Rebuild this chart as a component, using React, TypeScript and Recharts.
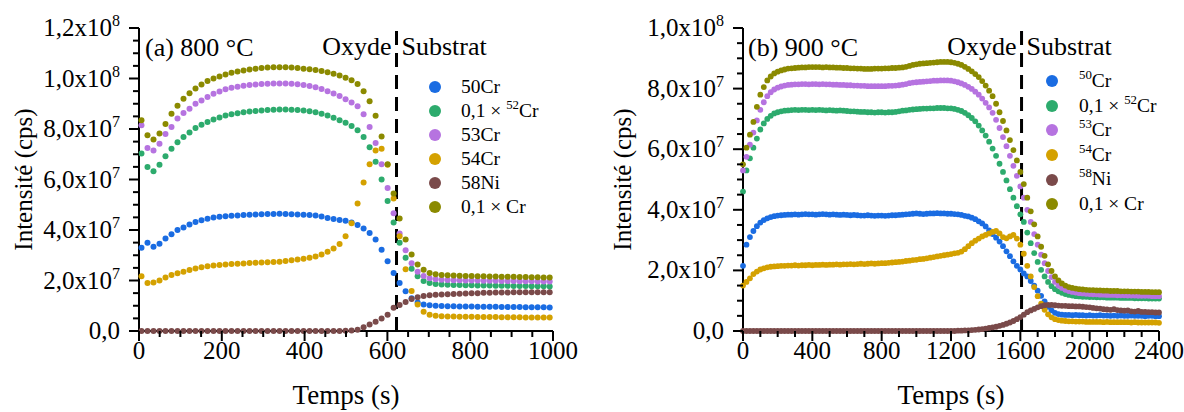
import React from "react";
import {
  Legend,
  ReferenceLine,
  Scatter,
  ScatterChart,
  XAxis,
  YAxis,
} from "recharts";

const FONT = '"Liberation Serif", "Times New Roman", serif';

// intensities are in units of 1e7 cps

// (a) 800 °C
const timeA = [
  6, 20.5, 35, 49.5, 64, 78.5, 93, 107.5, 122, 136.5,
  151, 165.5, 180, 194.5, 209, 223.5, 238, 252.5, 267, 281.5,
  296, 310.5, 325, 339.5, 354, 368.5, 383, 397.5, 412, 426.5,
  441, 455.5, 470, 484.5, 499, 513.5, 528, 542.5, 557, 571.5,
  586, 600.5, 615, 629.5, 644, 658.5, 673, 687.5, 702, 716.5,
  731, 745.5, 760, 774.5, 789, 803.5, 818, 832.5, 847, 861.5,
  876, 890.5, 905, 919.5, 934, 948.5, 963, 977.5, 992,
];
const a50Cr = [
  3.3, 3.5, 3.34, 3.46, 3.66, 3.83, 4.0, 4.1, 4.22, 4.32,
  4.39, 4.45, 4.5, 4.52, 4.54, 4.56, 4.57, 4.59, 4.6, 4.61,
  4.62, 4.63, 4.63, 4.64, 4.63, 4.62, 4.61, 4.6, 4.59, 4.57,
  4.53, 4.48, 4.44, 4.4, 4.37, 4.3, 4.2, 4.06, 3.88, 3.62,
  3.22, 2.76, 2.3, 1.9, 1.57, 1.3, 1.13, 1.05, 1.02, 1.0,
  0.99, 0.98, 0.98, 0.97, 0.97, 0.97, 0.96, 0.96, 0.96, 0.96,
  0.95, 0.95, 0.95, 0.95, 0.94, 0.94, 0.94, 0.94, 0.93,
];
const a52Cr = [
  7.03, 6.5, 6.33, 6.58, 6.92, 7.22, 7.48, 7.68, 7.86, 8.04,
  8.17, 8.28, 8.38, 8.46, 8.53, 8.58, 8.62, 8.66, 8.69, 8.71,
  8.73, 8.75, 8.76, 8.77, 8.77, 8.76, 8.75, 8.73, 8.7, 8.66,
  8.6, 8.53, 8.45, 8.35, 8.25, 8.12, 7.95, 7.68, 7.28, 6.7,
  6.0, 5.15, 4.3, 3.5, 2.9, 2.47, 2.17, 1.98, 1.9, 1.86,
  1.84, 1.83, 1.82, 1.82, 1.81, 1.81, 1.8, 1.8, 1.8, 1.79,
  1.79, 1.79, 1.78, 1.78, 1.78, 1.77, 1.77, 1.77, 1.76,
];
const a53Cr = [
  8.15, 7.25, 7.15, 7.42, 7.8, 8.08, 8.42, 8.63, 8.8, 9.0,
  9.13, 9.27, 9.4, 9.49, 9.57, 9.63, 9.67, 9.71, 9.74, 9.76,
  9.78, 9.79, 9.8, 9.8, 9.8, 9.79, 9.77, 9.74, 9.7, 9.65,
  9.58, 9.5, 9.41, 9.31, 9.18, 9.05, 8.9, 8.58, 8.08, 7.45,
  6.6, 5.66, 4.66, 3.86, 3.2, 2.68, 2.35, 2.18, 2.09, 2.05,
  2.03, 2.02, 2.01, 2.01, 2.0, 2.0, 2.0, 1.99, 1.99, 1.99,
  1.98, 1.98, 1.98, 1.97, 1.97, 1.97, 1.96, 1.96, 1.96,
];
const a54Cr = [
  2.17, 1.9, 1.92, 2.0, 2.12, 2.22, 2.29, 2.35, 2.42, 2.48,
  2.52, 2.56, 2.59, 2.61, 2.63, 2.65, 2.66, 2.67, 2.69, 2.7,
  2.71, 2.72, 2.73, 2.74, 2.77, 2.8, 2.83, 2.86, 2.9, 2.95,
  3.03, 3.14, 3.27, 3.45, 3.75, 4.27, 5.05, 5.88, 6.6, 7.15,
  7.22, 6.58, 5.25, 3.75, 2.45, 1.58, 1.05, 0.76, 0.64, 0.6,
  0.58, 0.57, 0.57, 0.56, 0.56, 0.56, 0.55, 0.55, 0.55, 0.55,
  0.54, 0.54, 0.54, 0.54, 0.53, 0.53, 0.53, 0.53, 0.53,
];
const a58Ni = [
  0, 0, 0, 0, 0, 0, 0, 0, 0, 0,
  0, 0, 0, 0, 0, 0, 0, 0, 0, 0,
  0, 0, 0, 0, 0, 0, 0, 0, 0, 0,
  0, 0, 0, 0, 0.01, 0.02, 0.05, 0.15, 0.26, 0.37,
  0.5, 0.64, 0.92, 1.03, 1.15, 1.27, 1.34, 1.39, 1.42, 1.44,
  1.45, 1.46, 1.47, 1.48, 1.49, 1.5, 1.5, 1.51, 1.51, 1.52,
  1.52, 1.52, 1.53, 1.53, 1.53, 1.53, 1.53, 1.53, 1.53,
];
const aCr = [
  8.35, 7.75, 7.58, 7.82, 8.2, 8.6, 8.92, 9.2, 9.42, 9.6,
  9.76, 9.9, 10.0, 10.08, 10.16, 10.23, 10.28, 10.32, 10.36, 10.39,
  10.42, 10.44, 10.45, 10.45, 10.45, 10.44, 10.42, 10.39, 10.37, 10.34,
  10.3, 10.25, 10.19, 10.12, 10.03, 9.93, 9.78, 9.5, 9.1, 8.52,
  7.7, 6.6, 5.45, 4.46, 3.62, 3.03, 2.63, 2.43, 2.3, 2.25,
  2.22, 2.21, 2.2, 2.19, 2.18, 2.18, 2.17, 2.17, 2.16, 2.16,
  2.15, 2.15, 2.15, 2.14, 2.14, 2.13, 2.13, 2.12, 2.12,
];

// (b) 900 °C
const timeB = [
  0, 20, 40, 60, 80, 100, 120, 140, 160, 180,
  200, 220, 240, 260, 280, 300, 320, 340, 360, 380,
  400, 420, 440, 460, 480, 500, 520, 540, 560, 580,
  600, 620, 640, 660, 680, 700, 720, 740, 760, 780,
  800, 820, 840, 860, 880, 900, 920, 940, 960, 980,
  1000, 1020, 1040, 1060, 1080, 1100, 1120, 1140, 1160, 1180,
  1200, 1220, 1240, 1260, 1280, 1300, 1320, 1340, 1360, 1380,
  1400, 1420, 1440, 1460, 1480, 1500, 1520, 1540, 1560, 1580,
  1600, 1620, 1640, 1660, 1680, 1700, 1720, 1740, 1760, 1780,
  1800, 1820, 1840, 1860, 1880, 1900, 1920, 1940, 1960, 1980,
  2000, 2020, 2040, 2060, 2080, 2100, 2120, 2140, 2160, 2180,
  2200, 2220, 2240, 2260, 2280, 2300, 2320, 2340, 2360, 2380,
  2400,
];
const b50Cr = [
  2.15, 2.85, 3.1, 3.3, 3.46, 3.58, 3.66, 3.72, 3.76, 3.79,
  3.81, 3.82, 3.83, 3.84, 3.84, 3.85, 3.84, 3.85, 3.86, 3.85,
  3.85, 3.84, 3.85, 3.86, 3.85, 3.84, 3.85, 3.84, 3.83, 3.84,
  3.83, 3.82, 3.83, 3.82, 3.81, 3.81, 3.82, 3.81, 3.8, 3.81,
  3.81, 3.8, 3.81, 3.82, 3.82, 3.83, 3.84, 3.85, 3.86, 3.87,
  3.88, 3.87, 3.86, 3.87, 3.88, 3.88, 3.89, 3.88, 3.88, 3.87,
  3.87, 3.86, 3.85, 3.83, 3.8, 3.78, 3.74, 3.69, 3.62, 3.55,
  3.45, 3.32, 3.2, 3.08, 2.95, 2.8, 2.63, 2.47, 2.3, 2.15,
  2.03, 1.9, 1.8, 1.65, 1.5, 1.33, 1.16, 0.98, 0.8, 0.68,
  0.6, 0.56, 0.54, 0.53, 0.53, 0.52, 0.53, 0.52, 0.52, 0.51,
  0.52, 0.51, 0.51, 0.52, 0.51, 0.51, 0.5, 0.51, 0.5, 0.51,
  0.5, 0.5, 0.51, 0.5, 0.5, 0.5, 0.49, 0.5, 0.5, 0.49,
  0.49,
];
const b52Cr = [
  4.6, 5.3, 5.7, 6.05, 6.35, 6.65, 6.85, 7.0, 7.1, 7.18,
  7.22, 7.25, 7.27, 7.28, 7.29, 7.3, 7.29, 7.3, 7.3, 7.29,
  7.3, 7.29, 7.3, 7.29, 7.28, 7.29, 7.28, 7.27, 7.28, 7.27,
  7.26, 7.25, 7.25, 7.24, 7.23, 7.23, 7.22, 7.22, 7.21, 7.22,
  7.22, 7.21, 7.22, 7.22, 7.23, 7.25, 7.27, 7.28, 7.3, 7.31,
  7.32, 7.33, 7.34, 7.34, 7.35, 7.35, 7.36, 7.36, 7.36, 7.35,
  7.35, 7.33, 7.3, 7.26, 7.2, 7.12, 7.03, 6.92, 6.78, 6.62,
  6.45, 6.25, 6.02, 5.78, 5.52, 5.25, 4.97, 4.68, 4.4, 4.12,
  3.85, 3.6, 3.25, 2.9, 2.57, 2.28, 2.02, 1.8, 1.62, 1.48,
  1.38, 1.31, 1.26, 1.22, 1.19, 1.17, 1.15, 1.14, 1.13, 1.13,
  1.12, 1.12, 1.11, 1.11, 1.11, 1.1, 1.1, 1.1, 1.1, 1.09,
  1.09, 1.09, 1.09, 1.08, 1.08, 1.08, 1.08, 1.07, 1.07, 1.07,
  1.07,
];
const b53Cr = [
  5.3, 5.75, 6.15, 6.55, 6.95, 7.3, 7.55, 7.75, 7.88, 7.97,
  8.03, 8.07, 8.1, 8.12, 8.13, 8.14, 8.14, 8.15, 8.15, 8.14,
  8.15, 8.15, 8.14, 8.15, 8.14, 8.14, 8.13, 8.13, 8.12, 8.12,
  8.11, 8.11, 8.1, 8.1, 8.09, 8.09, 8.08, 8.08, 8.08, 8.08,
  8.08, 8.08, 8.09, 8.09, 8.1, 8.11, 8.13, 8.15, 8.18, 8.2,
  8.21, 8.22, 8.23, 8.24, 8.25, 8.26, 8.26, 8.27, 8.27, 8.27,
  8.26, 8.24, 8.21, 8.17, 8.12, 8.06, 7.99, 7.9, 7.8, 7.67,
  7.53, 7.38, 7.2, 6.97, 6.7, 6.4, 6.1, 5.78, 5.45, 5.12,
  4.77, 4.4, 4.0, 3.6, 3.2, 2.85, 2.52, 2.24, 1.98, 1.78,
  1.62, 1.5, 1.42, 1.36, 1.32, 1.29, 1.27, 1.25, 1.24, 1.23,
  1.22, 1.21, 1.21, 1.2, 1.2, 1.19, 1.19, 1.19, 1.18, 1.18,
  1.18, 1.17, 1.17, 1.17, 1.16, 1.16, 1.16, 1.16, 1.15, 1.15,
  1.15,
];
const b54Cr = [
  1.5, 1.62, 1.74, 1.88, 1.96, 2.03, 2.07, 2.1, 2.12, 2.13,
  2.14, 2.15, 2.15, 2.16, 2.16, 2.17, 2.16, 2.17, 2.17, 2.18,
  2.17, 2.18, 2.18, 2.19, 2.18, 2.19, 2.19, 2.2, 2.19, 2.2,
  2.2, 2.21, 2.2, 2.21, 2.22, 2.21, 2.22, 2.23, 2.22, 2.23,
  2.24, 2.24, 2.25, 2.26, 2.27, 2.28, 2.29, 2.31, 2.32, 2.34,
  2.35, 2.37, 2.38, 2.4, 2.42, 2.44, 2.46, 2.48, 2.5, 2.52,
  2.54, 2.56, 2.58, 2.62, 2.7, 2.8, 2.9, 2.98, 3.05, 3.12,
  3.17, 3.22, 3.27, 3.3, 3.22, 3.1, 3.06, 3.12, 3.17, 3.05,
  2.85, 2.55, 2.15, 1.8, 1.45, 1.15, 0.9, 0.7, 0.55, 0.45,
  0.39, 0.36, 0.34, 0.33, 0.32, 0.32, 0.31, 0.31, 0.31, 0.3,
  0.3, 0.3, 0.3, 0.3, 0.29, 0.3, 0.29, 0.29, 0.29, 0.29,
  0.29, 0.29, 0.28, 0.29, 0.28, 0.28, 0.28, 0.28, 0.28, 0.28,
  0.27,
];
const b58Ni = [
  0, 0, 0, 0, 0, 0, 0, 0, 0, 0,
  0, 0, 0, 0, 0, 0, 0, 0, 0, 0,
  0, 0, 0, 0, 0, 0, 0, 0, 0, 0,
  0, 0, 0, 0, 0, 0, 0, 0, 0, 0,
  0, 0, 0, 0, 0, 0, 0, 0, 0, 0,
  0, 0, 0, 0, 0, 0, 0, 0, 0, 0,
  0, 0, 0.01, 0.01, 0.02, 0.02, 0.03, 0.04, 0.05, 0.06,
  0.08, 0.1, 0.12, 0.14, 0.17, 0.2, 0.24, 0.28, 0.33, 0.39,
  0.46, 0.54, 0.62, 0.68, 0.73, 0.78, 0.82, 0.85, 0.86, 0.86,
  0.85, 0.84, 0.83, 0.83, 0.82, 0.82, 0.81, 0.81, 0.8, 0.79,
  0.78, 0.76, 0.75, 0.74, 0.72, 0.71, 0.7, 0.72, 0.69, 0.68,
  0.67, 0.68, 0.65, 0.64, 0.66, 0.63, 0.63, 0.62, 0.62, 0.61,
  0.61,
];
const bCr = [
  5.5, 6.05, 6.48, 6.9, 7.4, 7.8, 8.05, 8.27, 8.4, 8.5,
  8.56, 8.6, 8.63, 8.66, 8.67, 8.68, 8.69, 8.7, 8.7, 8.71,
  8.71, 8.71, 8.71, 8.7, 8.71, 8.7, 8.7, 8.69, 8.69, 8.68,
  8.68, 8.67, 8.67, 8.66, 8.66, 8.65, 8.65, 8.65, 8.66, 8.66,
  8.66, 8.67, 8.67, 8.68, 8.68, 8.69, 8.7, 8.72, 8.75, 8.78,
  8.8, 8.82, 8.83, 8.84, 8.85, 8.86, 8.87, 8.88, 8.88, 8.88,
  8.87, 8.85, 8.82, 8.78, 8.72, 8.65, 8.57, 8.48, 8.38, 8.25,
  8.1, 7.93, 7.75, 7.5, 7.22, 6.93, 6.62, 6.3, 5.97, 5.63,
  5.25, 4.85, 4.4, 3.95, 3.52, 3.12, 2.78, 2.48, 2.2, 1.98,
  1.8, 1.67, 1.57, 1.5, 1.45, 1.42, 1.4, 1.38, 1.37, 1.36,
  1.35, 1.35, 1.34, 1.34, 1.33, 1.33, 1.32, 1.32, 1.32, 1.31,
  1.31, 1.31, 1.3, 1.3, 1.3, 1.29, 1.29, 1.29, 1.28, 1.28,
  1.28,
];

const xTicksA = [
  0, 50, 100, 150, 200, 250, 300, 350, 400, 450, 500,
  550, 600, 650, 700, 750, 800, 850, 900, 950, 1000,
];
const xTicksB = [
  0, 100, 200, 300, 400, 500, 600, 700, 800, 900, 1000, 1100, 1200,
  1300, 1400, 1500, 1600, 1700, 1800, 1900, 2000, 2100, 2200, 2300, 2400,
];
const yTicksA = [
  0, 0.5, 1, 1.5, 2, 2.5, 3, 3.5, 4, 4.5, 5, 5.5, 6,
  6.5, 7, 7.5, 8, 8.5, 9, 9.5, 10, 10.5, 11, 11.5, 12,
];
const yTicksB = [
  0, 0.5, 1, 1.5, 2, 2.5, 3, 3.5, 4, 4.5, 5,
  5.5, 6, 6.5, 7, 7.5, 8, 8.5, 9, 9.5, 10,
];

const COLORS = ["#1a6ce2", "#2dab6d", "#b673e0", "#d4a100", "#7a4a4a", "#8b8a00"];

const toPoints = (t: number[], v: number[]) => t.map((x, i) => ({ t: x, v: v[i] }));

const sup = (s: string) => (
  <sup style={{ fontSize: "0.66em", verticalAlign: "0.6em", lineHeight: 0 }}>{s}</sup>
);

const labelsA = [
  <>50Cr</>,
  <>0,1 × {sup("52")}Cr</>,
  <>53Cr</>,
  <>54Cr</>,
  <>58Ni</>,
  <>0,1 × Cr</>,
];
const labelsB = [
  <>{sup("50")}Cr</>,
  <>0,1 × {sup("52")}Cr</>,
  <>{sup("53")}Cr</>,
  <>{sup("54")}Cr</>,
  <>{sup("58")}Ni</>,
  <>0,1 × Cr</>,
];

function yLabel(v: number) {
  if (v === 0) return <tspan>0,0</tspan>;
  const exp = v >= 10 ? 8 : 7;
  const m = v >= 10 ? v / 10 : v;
  return (
    <>
      <tspan>{m.toFixed(1).replace(".", ",")}x10</tspan>
      <tspan dy={-10} fontSize={16}>
        {exp}
      </tspan>
    </>
  );
}

const YTick = (props: any) => {
  const { x, y, payload } = props;
  const v = payload.value;
  const major = Math.abs(v / 2 - Math.round(v / 2)) < 1e-6;
  return (
    <g>
      <line x1={x - (major ? 10 : 6)} x2={x} y1={y} y2={y} stroke="#000" strokeWidth={2} />
      {major && (
        <text x={x - 19} y={y + 8} textAnchor="end" fontSize={25} fontFamily={FONT} fill="#000">
          {yLabel(v)}
        </text>
      )}
    </g>
  );
};

const XTick = (props: any) => {
  const { x, y, payload, step } = props;
  const v = payload.value;
  const major = v % step === 0;
  return (
    <g>
      <line x1={x} x2={x} y1={y} y2={y + (major ? 10 : 6)} stroke="#000" strokeWidth={2} />
      {major && (
        <text x={x} y={y + 28} textAnchor="middle" fontSize={25} fontFamily={FONT} fill="#000">
          {v}
        </text>
      )}
    </g>
  );
};

const XTitle = ({ viewBox }: any) => (
  <text
    x={viewBox.x + viewBox.width / 2}
    y={404}
    textAnchor="middle"
    fontSize={27}
    fontFamily={FONT}
    fill="#000"
  >
    Temps (s)
  </text>
);

const YTitle = ({ viewBox, cx }: any) => {
  const cy = viewBox.y + viewBox.height / 2;
  return (
    <text
      x={cx}
      y={cy}
      transform={`rotate(-90, ${cx}, ${cy})`}
      textAnchor="middle"
      dominantBaseline="central"
      fontSize={25}
      fontFamily={FONT}
      fill="#000"
    >
      Intensité (cps)
    </text>
  );
};

const DashLabel = ({ viewBox, title, titleX }: any) => {
  const x = viewBox.x;
  const t = { fontSize: 26, fontFamily: FONT, fill: "#000" };
  return (
    <g>
      <text x={titleX} y={56} {...t}>
        {title}
      </text>
      <text x={x - 5} y={55} textAnchor="end" {...t}>
        Oxyde
      </text>
      <text x={x + 5} y={55} textAnchor="start" {...t}>
        Substrat
      </text>
    </g>
  );
};

const LegendBox = ({ labels, rowH, gap }: { labels: React.ReactNode[]; rowH: number; gap: number }) => (
  <div style={{ fontFamily: FONT, fontSize: 19.5, color: "#000" }}>
    {labels.map((l, i) => (
      <div key={i} style={{ display: "flex", alignItems: "center", height: rowH, whiteSpace: "nowrap" }}>
        <span
          style={{
            display: "inline-block",
            width: 12,
            height: 12,
            borderRadius: "50%",
            background: COLORS[i],
            marginRight: gap,
          }}
        />
        <span style={{ lineHeight: `${rowH}px` }}>{l}</span>
      </div>
    ))}
  </div>
);

type PanelProps = {
  left: number;
  width: number;
  yWidth: number;
  rightMargin: number;
  xMax: number;
  xTicks: number[];
  xStep: number;
  yMax: number;
  yTicks: number[];
  dashX: number;
  title: string;
  titleX: number;
  yTitleX: number;
  series: { t: number; v: number }[][];
  labels: React.ReactNode[];
  legendLeft: number;
  legendTop: number;
  legendRow: number;
  legendGap: number;
  r: number;
};

const Panel = (p: PanelProps) => (
  <div style={{ position: "absolute", left: p.left, top: 0 }}>
    <ScatterChart
      width={p.width}
      height={412}
      margin={{ top: 28, right: p.rightMargin, bottom: 21, left: 0 }}
      style={{ overflow: "visible" }}
    >
      <XAxis
        dataKey="t"
        type="number"
        domain={[0, p.xMax]}
        ticks={p.xTicks}
        interval={0}
        height={60}
        tickSize={0}
        tickMargin={0}
        tickLine={false}
        axisLine={{ stroke: "#000", strokeWidth: 2 }}
        tick={(tp: any) => <XTick {...tp} step={p.xStep} />}
        label={<XTitle />}
      />
      <YAxis
        dataKey="v"
        type="number"
        domain={[0, p.yMax]}
        ticks={p.yTicks}
        interval={0}
        width={p.yWidth}
        tickSize={0}
        tickMargin={0}
        tickLine={false}
        axisLine={{ stroke: "#000", strokeWidth: 2 }}
        tick={(tp: any) => <YTick {...tp} />}
        label={<YTitle cx={p.yTitleX} />}
      />
      <XAxis
        xAxisId="top"
        orientation="top"
        type="number"
        domain={[0, p.xMax]}
        height={0}
        tick={false}
        tickLine={false}
        axisLine={{ stroke: "#000", strokeWidth: 2 }}
      />
      <YAxis
        yAxisId="right"
        orientation="right"
        type="number"
        domain={[0, p.yMax]}
        width={0}
        tick={false}
        tickLine={false}
        axisLine={{ stroke: "#000", strokeWidth: 2 }}
      />
      <ReferenceLine
        x={p.dashX}
        stroke="#000"
        strokeWidth={3}
        strokeDasharray="14 8"
        label={<DashLabel title={p.title} titleX={p.titleX} />}
      />
      {p.series.map((d, i) => (
        <Scatter
          key={i}
          data={d}
          fill={COLORS[i]}
          isAnimationActive={false}
          shape={(sp: any) => <circle cx={sp.cx} cy={sp.cy} r={p.r} fill={COLORS[i]} />}
        />
      ))}
      <Legend
        layout="vertical"
        align="center"
        verticalAlign="middle"
        wrapperStyle={{ left: p.legendLeft, top: p.legendTop, width: 160, height: 160 }}
        content={() => <LegendBox labels={p.labels} rowH={p.legendRow} gap={p.legendGap} />}
      />
    </ScatterChart>
  </div>
);

export default function App() {
  const seriesA = [a50Cr, a52Cr, a53Cr, a54Cr, a58Ni, aCr].map((v) => toPoints(timeA, v));
  const seriesB = [b50Cr, b52Cr, b53Cr, b54Cr, b58Ni, bCr].map((v) => toPoints(timeB, v));
  return (
    <div
      style={{
        position: "absolute",
        left: 0,
        top: 0,
        width: 1184,
        height: 412,
        background: "#fff",
        overflow: "hidden",
      }}
    >
      <Panel
        left={0}
        width={580}
        yWidth={139}
        rightMargin={27}
        xMax={1000}
        xTicks={xTicksA}
        xStep={200}
        yMax={12}
        yTicks={yTicksA}
        dashX={622}
        title="(a) 800 °C"
        titleX={145}
        yTitleX={23}
        series={seriesA}
        labels={labelsA}
        legendLeft={429}
        legendTop={75}
        legendRow={24}
        legendGap={20}
        r={3}
      />
      <Panel
        left={590}
        width={594}
        yWidth={153}
        rightMargin={25}
        xMax={2400}
        xTicks={xTicksB}
        xStep={400}
        yMax={10}
        yTicks={yTicksB}
        dashX={1607}
        title="(b) 900 °C"
        titleX={158}
        yTitleX={32}
        series={seriesB}
        labels={labelsB}
        legendLeft={456}
        legendTop={69}
        legendRow={24.6}
        legendGap={21}
        r={2.9}
      />
    </div>
  );
}
